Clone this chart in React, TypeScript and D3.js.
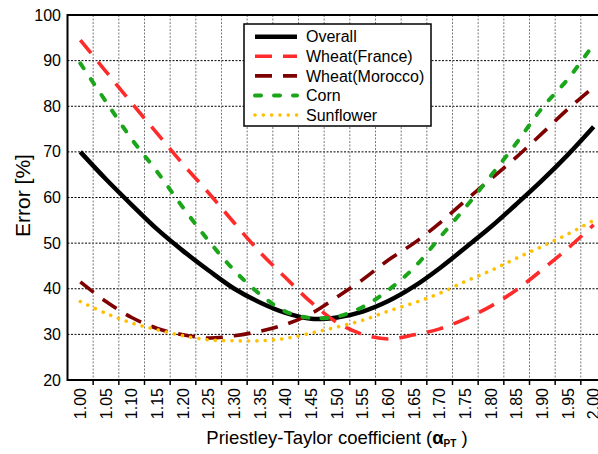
import React, { useRef, useEffect } from 'react';
import * as d3 from 'd3';

// categorie (coefficiente di Priestley-Taylor)
const alphaLabels = ['1.00', '1.05', '1.10', '1.15', '1.20', '1.25', '1.30', '1.35', '1.40', '1.45', '1.50',
    '1.55', '1.60', '1.65', '1.70', '1.75', '1.80', '1.85', '1.90', '1.95', '2.00'];

// errori [%]
const overall = [70, 64, 58.4, 53, 48.3, 44, 40, 37, 34.7, 33.4, 33.7, 35, 37.3, 40.5, 44.5, 49, 53.6, 58.6, 63.8, 69.4, 75.5];
const wheatFrance = [94.5, 87.6, 80.7, 74, 67.3, 61, 54.4, 48, 42.4, 37, 32.6, 30, 29, 29.9, 31.2, 33.4, 36.2, 39.8, 44.2, 48.9, 54];
const wheatMorocco = [41.5, 37.2, 33.7, 31.3, 29.9, 29.2, 29.7, 30.7, 32.2, 34.6, 38.2, 42, 46.3, 50, 54.4, 59.3, 64.1, 68.9, 74.1, 79.4, 84.2];
const corn = [89.4, 81, 72.8, 65.6, 57.8, 50.5, 44, 38.8, 35, 33.6, 33.9, 36, 39.7, 44.6, 51.2, 57.8, 64.8, 72, 79.7, 86, 93.6];
const sunflower = [37.2, 34.6, 32.5, 31, 29.7, 28.8, 28.6, 28.6, 29.1, 30.3, 31.6, 33.1, 35.1, 36.9, 39, 41.6, 44, 46.7, 49.3, 52, 55];

const yTicks = [20, 30, 40, 50, 60, 70, 80, 90, 100];
const seriesNames = ['Overall', 'Wheat(France)', 'Wheat(Morocco)', 'Corn', 'Sunflower'];

const FONT = "Arial, 'Liberation Sans', sans-serif";

const App: React.FC = () => {
    const ref = useRef<SVGSVGElement>(null);

    useEffect(() => {
        const svg = d3.select(ref.current);
        svg.selectAll('*').remove();

        const left = 67.5, right = 606.5, top = 15, bottom = 380;

        const x = d3.scaleBand<string>().domain(alphaLabels).range([left, right]);
        const y = d3.scaleLinear().domain([20, 100]).range([bottom, top]);
        const cx = (d: string) => x(d)! + x.bandwidth() / 2;

        // stili delle serie
        const styles = [
            { data: overall, color: '#000000', width: 4.5, dash: null as string | null, cap: 'butt' },
            { data: wheatFrance, color: '#ff2b2b', width: 3.6, dash: '17,11', cap: 'butt' },
            { data: wheatMorocco, color: '#7f0000', width: 3.6, dash: '17,11', cap: 'butt' },
            { data: corn, color: '#1ba51b', width: 4, dash: '6,13', cap: 'round' },
            { data: sunflower, color: '#ffc000', width: 3.6, dash: '0.01,8.3', cap: 'round' },
        ];

        // griglia orizzontale
        svg.append('g').selectAll('line')
            .data(yTicks.filter(t => t > 20 && t < 100))
            .enter().append('line')
            .attr('x1', left).attr('x2', right)
            .attr('y1', d => y(d)).attr('y2', d => y(d))
            .attr('stroke', '#000').attr('stroke-width', 1)
            .attr('stroke-dasharray', '2,1.5');

        // griglia verticale (tra le categorie)
        const bounds = alphaLabels.slice(1).map(d => x(d)!);
        svg.append('g').selectAll('line')
            .data(bounds)
            .enter().append('line')
            .attr('x1', d => d).attr('x2', d => d)
            .attr('y1', top).attr('y2', bottom)
            .attr('stroke', '#7a7a7a').attr('stroke-width', 1)
            .attr('stroke-dasharray', '2,1.5');

        // tacche asse x
        svg.append('g').selectAll('line')
            .data(bounds)
            .enter().append('line')
            .attr('x1', d => d).attr('x2', d => d)
            .attr('y1', bottom).attr('y2', bottom + 5)
            .attr('stroke', '#000').attr('stroke-width', 1.5);

        // cornice
        svg.append('line').attr('x1', left).attr('x2', right).attr('y1', top).attr('y2', top)
            .attr('stroke', '#000').attr('stroke-width', 2);
        svg.append('line').attr('x1', left).attr('x2', right).attr('y1', bottom).attr('y2', bottom)
            .attr('stroke', '#000').attr('stroke-width', 2);
        svg.append('line').attr('x1', left).attr('x2', left).attr('y1', top - 1).attr('y2', bottom + 1)
            .attr('stroke', '#000').attr('stroke-width', 2);

        // linee delle serie
        const line = d3.line<number>()
            .x((_, i) => cx(alphaLabels[i]))
            .y(d => y(d))
            .curve(d3.curveCatmullRom);

        styles.forEach(s => {
            const p = svg.append('path')
                .attr('d', line(s.data)!)
                .attr('fill', 'none')
                .attr('stroke', s.color)
                .attr('stroke-width', s.width)
                .attr('stroke-linecap', s.cap)
                .attr('stroke-linejoin', 'round');
            if (s.dash) p.attr('stroke-dasharray', s.dash);
        });

        // etichette asse y
        svg.append('g').selectAll('text')
            .data(yTicks)
            .enter().append('text')
            .attr('x', 61)
            .attr('y', d => y(d))
            .attr('dy', '0.35em')
            .attr('text-anchor', 'end')
            .style('font-family', FONT)
            .style('font-size', '16px')
            .text(d => d);

        // etichette asse x (ruotate)
        svg.append('g').selectAll('text')
            .data(alphaLabels)
            .enter().append('text')
            .attr('transform', d => `translate(${cx(d)},${bottom + 8}) rotate(-90)`)
            .attr('dy', '0.35em')
            .attr('text-anchor', 'end')
            .style('font-family', FONT)
            .style('font-size', '16px')
            .text(d => d);

        // titolo asse y
        svg.append('text')
            .attr('transform', `translate(30,${(top + bottom) / 2 - 2}) rotate(-90)`)
            .attr('text-anchor', 'middle')
            .style('font-family', FONT)
            .style('font-size', '21px')
            .text('Error [%]');

        // titolo asse x
        const xt = svg.append('text')
            .attr('x', (left + right) / 2)
            .attr('y', 444)
            .attr('text-anchor', 'middle')
            .style('font-family', FONT)
            .style('font-size', '18.5px');
        xt.append('tspan').text('Priestley-Taylor coefficient (');
        xt.append('tspan').style('font-weight', 'bold').text('α');
        xt.append('tspan').style('font-weight', 'bold').style('font-size', '10px').attr('dy', 3).text('PT');
        xt.append('tspan').attr('dy', -3).text(' )');

        // legenda
        const lx = 244, ly = 24, lw = 187, lh = 102;
        const legend = svg.append('g');
        legend.append('rect')
            .attr('x', lx).attr('y', ly).attr('width', lw).attr('height', lh)
            .attr('fill', '#fff').attr('stroke', '#000').attr('stroke-width', 1.5);
        styles.forEach((s, i) => {
            const ry = ly + 12.7 + i * 19.6;
            const l = legend.append('line')
                .attr('x1', lx + 11).attr('x2', lx + 53)
                .attr('y1', ry).attr('y2', ry)
                .attr('stroke', s.color)
                .attr('stroke-width', s.width)
                .attr('stroke-linecap', s.cap);
            if (s.dash) l.attr('stroke-dasharray', s.dash);
            legend.append('text')
                .attr('x', lx + 62)
                .attr('y', ry)
                .attr('dy', '0.35em')
                .style('font-family', FONT)
                .style('font-size', '16px')
                .text(seriesNames[i]);
        });
    }, []);

    return (
        <svg ref={ref} width={598} height={454}
            style={{ position: 'absolute', left: 0, top: 0, background: '#fff' }} />
    );
};

export default App;
